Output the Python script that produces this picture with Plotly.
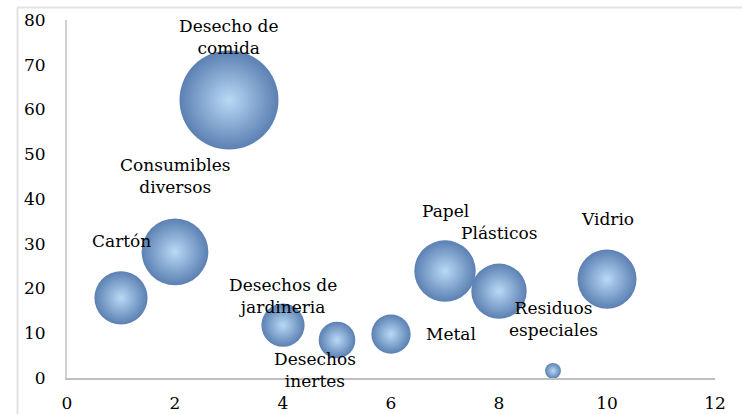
import plotly.graph_objects as go

# Waste categories, their position index and share (also used as bubble size)
categories = ["Cartón", "Consumibles<br>diversos", "Desecho de<br>comida",
              "Desechos de<br>jardineria", "Desechos<br>inertes", "Metal",
              "Papel", "Plásticos", "Residuos<br>especiales", "Vidrio"]
x_vals = [1, 2, 3, 4, 5, 6, 7, 8, 9, 10]
y_vals = [17.9, 28.2, 62.1, 11.8, 8.5, 9.8, 23.9, 19.4, 1.6, 22.1]
x_ticks = [0, 2, 4, 6, 8, 10, 12]
y_ticks = [0, 10, 20, 30, 40, 50, 60, 70, 80]

# label offsets in pixels relative to each bubble centre
label_dx = [0, 0, 0, 0, -22, 60, 0, 0, 0, 0]
label_dy = [57, 76, 63, 29, -30, 0, 60, 58, 52, 60]

FONT = "DejaVu Serif"
FS = 17
max_diam = 99
sizeref = 2.0 * max(y_vals) / (max_diam ** 2)

fig = go.Figure()
fig.add_trace(go.Scatter(
    x=x_vals, y=y_vals, mode="markers",
    marker=dict(size=y_vals, sizemode="area", sizeref=sizeref,
                color="#5b80b2", line=dict(width=0),
                gradient=dict(type="radial", color="#b9d9f6"),
                opacity=1),
    hoverinfo="skip", showlegend=False,
))

for cat, xv, yv, dx, dy in zip(categories, x_vals, y_vals, label_dx, label_dy):
    fig.add_annotation(x=xv, y=yv, text=cat, showarrow=False,
                       xshift=dx, yshift=dy,
                       font=dict(family=FONT, size=FS, color="#000000"))

# light frame around the chart area (top and left edges visible)
fig.add_shape(type="line", xref="paper", yref="paper",
              x0=-50 / 648, x1=1.2, y0=(378 - 7.5) / 358, y1=(378 - 7.5) / 358,
              line=dict(color="#e3e3e3", width=2))
fig.add_shape(type="line", xref="paper", yref="paper",
              x0=-49.5 / 648, x1=-49.5 / 648, y0=-0.2, y1=(378 - 7.5) / 358,
              line=dict(color="#e3e3e3", width=2))

fig.update_layout(
    width=742, height=414,
    margin=dict(l=67, r=27, t=20, b=36, autoexpand=False),
    paper_bgcolor="white", plot_bgcolor="white",
    font=dict(family=FONT, size=FS, color="#000000"),
    xaxis=dict(range=[0, 12], tickvals=x_ticks, showgrid=False, zeroline=False,
               showline=True, linecolor="#bfbfbf", linewidth=2,
               ticks="", ticklabelstandoff=9, automargin=False,
               tickfont=dict(family=FONT, size=FS)),
    yaxis=dict(range=[0, 80], tickvals=y_ticks, showgrid=False, zeroline=False,
               showline=True, linecolor="#d0d0d0", linewidth=2,
               ticks="", ticklabelstandoff=16, automargin=False,
               tickfont=dict(family=FONT, size=FS)),
)

fig.write_html("out.html")
